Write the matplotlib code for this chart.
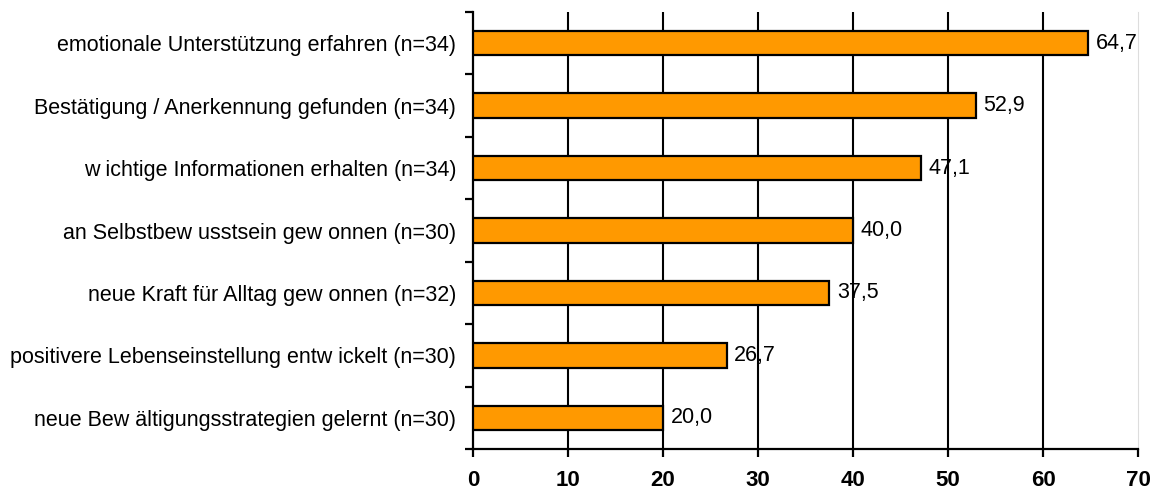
import matplotlib.pyplot as plt
from matplotlib.ticker import FixedLocator

plt.rcParams["font.family"] = ["Liberation Sans", "DejaVu Sans"]

labels = [
    "emotionale Unterstützung erfahren (n=34)",
    "Bestätigung / Anerkennung gefunden (n=34)",
    "w ichtige Informationen erhalten (n=34)",
    "an Selbstbew usstsein gew onnen (n=30)",
    "neue Kraft für Alltag gew onnen (n=32)",
    "positivere Lebenseinstellung entw ickelt (n=30)",
    "neue Bew ältigungsstrategien gelernt (n=30)",
]
values = [64.7, 52.9, 47.1, 40.0, 37.5, 26.7, 20.0]
xticks = [0, 10, 20, 30, 40, 50, 60, 70]

fig = plt.figure(figsize=(11.55, 4.92), dpi=100)
ax = fig.add_axes([0.4095, 0.087, 0.576, 0.889])

pos = list(range(len(values)))
ax.barh(pos, values, height=0.39, color="#FF9900", edgecolor="black",
        linewidth=1.6, zorder=3)

for p, v in zip(pos, values):
    ax.text(v + 0.8, p, f"{v:.1f}".replace(".", ","), va="center", ha="left",
            fontsize=15.5, zorder=4)

ax.set_xlim(0, 70)
ax.set_ylim(len(values) - 0.5, -0.5)
ax.set_xticks(xticks)
ax.set_xticklabels([str(t) for t in xticks], fontweight="bold", fontsize=16)

ax.set_yticks(pos)
ax.set_yticklabels(labels, fontsize=15.5)
ax.tick_params(axis="y", which="major", length=0, pad=12)
ax.yaxis.set_minor_locator(FixedLocator([p - 0.5 for p in pos] + [len(values) - 0.5]))
ax.tick_params(axis="y", which="minor", length=6, width=1.6, direction="out")
ax.tick_params(axis="x", length=6, width=1.6, direction="out", pad=9)

for t in xticks[1:-1]:
    ax.axvline(t, color="black", linewidth=1.5, zorder=1)

ax.spines["top"].set_visible(False)
ax.spines["right"].set_color("#dddddd")
ax.spines["left"].set_linewidth(1.6)
ax.spines["bottom"].set_linewidth(1.6)

fig.savefig("out.png", dpi=100)
